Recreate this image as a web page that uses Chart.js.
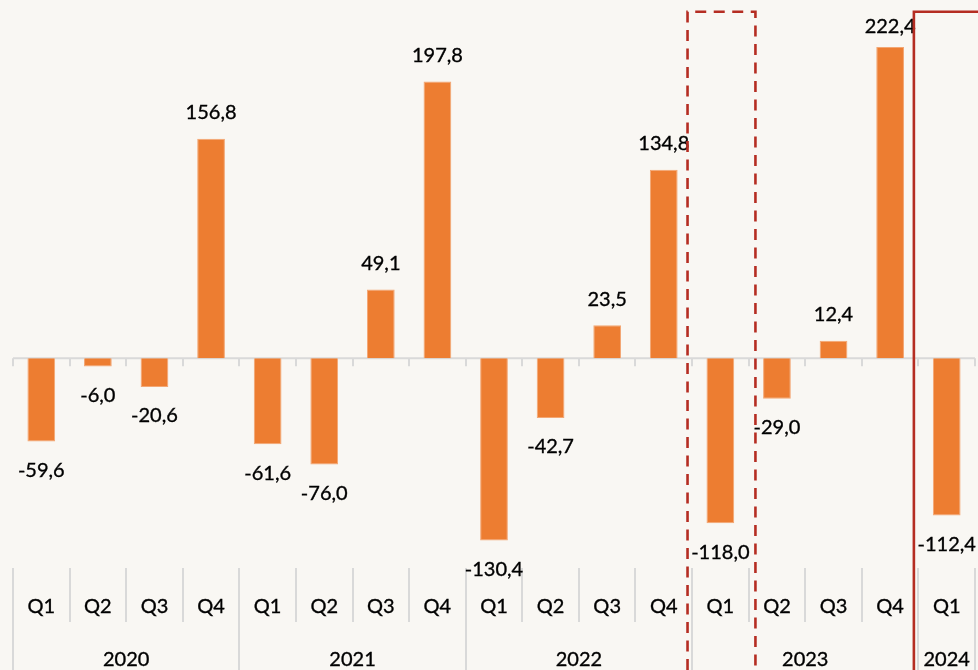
<!DOCTYPE html>
<html>
<head>
<meta charset="utf-8">
<script src="https://cdn.jsdelivr.net/npm/chart.js@4/dist/chart.umd.min.js"></script>
<style>
  html, body { margin: 0; padding: 0; background: #F9F7F3; }
  #wrap { width: 978px; height: 670px; }
</style>
</head>
<body>
<div id="wrap"><canvas id="c" width="978" height="670"></canvas></div>
<script>
const quarters = ['Q1','Q2','Q3','Q4','Q1','Q2','Q3','Q4','Q1','Q2','Q3','Q4','Q1','Q2','Q3','Q4','Q1'];
const years = ['2020','2021','2022','2023','2024'];
const yearSpans = [4, 4, 4, 4, 1];
const values = [-59.6, -6.0, -20.6, 156.8, -61.6, -76.0, 49.1, 197.8, -130.4, -42.7, 23.5, 134.8, -118.0, -29.0, 12.4, 222.4, -112.4];
const dashedIndex = 12;
const solidIndex = 16;

const FONT = 'Lato, "Open Sans", sans-serif';
const GRID = '#D9D9D9';
const RED = '#B52D22';

function fmt(v) { return v.toFixed(1).replace('.', ','); }

function boldText(ctx, t, px, py) {
  ctx.fillText(t, px, py);
  ctx.strokeText(t, px, py);
}

const overlay = {
  id: 'overlay',
  beforeDatasetsDraw(chart) {
    const {ctx, chartArea, scales: {x, y}} = chart;
    const catW = (chartArea.right - chartArea.left) / quarters.length;
    const y0 = y.getPixelForValue(0);
    ctx.save();
    ctx.strokeStyle = GRID;
    ctx.lineWidth = 2;
    ctx.beginPath();
    ctx.moveTo(chartArea.left, y0);
    ctx.lineTo(chartArea.right, y0);
    ctx.stroke();
    ctx.beginPath();
    for (let i = 0; i <= quarters.length; i++) {
      const bx = Math.round(x.getPixelForValue(0) - catW / 2 + i * catW);
      ctx.moveTo(bx, y0);
      ctx.lineTo(bx, y0 + 8);
    }
    ctx.stroke();
    ctx.restore();
  },
  afterDraw(chart) {
    const {ctx, chartArea, scales: {x, y}} = chart;
    const H = chart.height;
    const catW = (chartArea.right - chartArea.left) / quarters.length;
    const bottom = chartArea.bottom;
    ctx.save();
    const yearBounds = new Set([0]);
    let acc = 0;
    yearSpans.forEach(s => { acc += s; yearBounds.add(acc); });
    ctx.strokeStyle = GRID;
    ctx.lineWidth = 2;
    for (let i = 0; i <= quarters.length; i++) {
      const bx = Math.round(x.getPixelForValue(0) - catW / 2 + i * catW);
      ctx.beginPath();
      ctx.moveTo(bx, bottom);
      ctx.lineTo(bx, yearBounds.has(i) ? H : bottom + 54);
      ctx.stroke();
    }
    ctx.fillStyle = '#000';
    ctx.strokeStyle = '#000';
    ctx.lineWidth = 0.35;
    ctx.font = '20px ' + FONT;
    ctx.textAlign = 'center';
    ctx.textBaseline = 'middle';
    quarters.forEach((q, i) => {
      boldText(ctx, q, x.getPixelForValue(i), bottom + 39);
    });
    let start = 0;
    years.forEach((yr, k) => {
      const s = yearSpans[k];
      const cx = (x.getPixelForValue(start) + x.getPixelForValue(start + s - 1)) / 2;
      boldText(ctx, yr, cx, bottom + 92);
      start += s;
    });
    values.forEach((v, i) => {
      const px = x.getPixelForValue(i);
      const py = y.getPixelForValue(v);
      let ly = v >= 0 ? py - 26 : py + 29;
      if (ly < 27) ly = 27;
      boldText(ctx, fmt(v), px, ly);
    });
    const topY = 11.7;
    ctx.strokeStyle = RED;
    ctx.lineWidth = 2.6;
    const dc = x.getPixelForValue(dashedIndex);
    const dl = dc - 0.58 * catW, dr = dc + 0.62 * catW;
    ctx.setLineDash([11, 7.5]);
    ctx.beginPath();
    ctx.moveTo(dl, H); ctx.lineTo(dl, topY); ctx.lineTo(dr, topY); ctx.lineTo(dr, H);
    ctx.stroke();
    ctx.setLineDash([]);
    const sc = x.getPixelForValue(solidIndex);
    const sl = sc - 0.58 * catW;
    ctx.beginPath();
    ctx.moveTo(sl, H); ctx.lineTo(sl, topY); ctx.lineTo(chart.width + 10, topY);
    ctx.stroke();
    ctx.restore();
  }
};

new Chart(document.getElementById('c'), {
  type: 'bar',
  data: {
    labels: quarters.map((q, i) => q),
    datasets: [{
      data: values,
      backgroundColor: '#ED7D31',
      borderColor: '#F3A673',
      borderWidth: 1,
      categoryPercentage: 1,
      barPercentage: 0.49
    }]
  },
  options: {
    responsive: false,
    animation: false,
    devicePixelRatio: 1,
    layout: { padding: { left: 13, right: 3, top: 8.5, bottom: 102 } },
    scales: {
      x: { display: false, offset: true },
      y: { display: false, min: -150, max: 250 }
    },
    plugins: { legend: { display: false }, tooltip: { enabled: false } }
  },
  plugins: [overlay]
});
</script>
</body>
</html>
